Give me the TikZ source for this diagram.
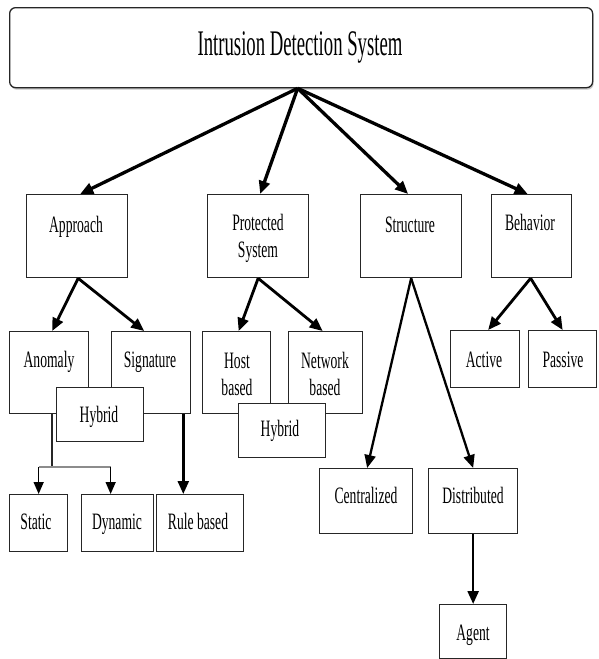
\documentclass[tikz,border=0pt]{standalone}
\usepackage{fontspec}
\setmainfont{Liberation Serif}[FakeStretch=0.58]
\newfontfamily\titlefont{Liberation Serif}[FakeStretch=0.52]
\usetikzlibrary{arrows.meta,calc,shadows}
\begin{document}
\begin{tikzpicture}[x=1pt,y=-1pt,
  box/.style={draw=black!85, line width=1.3pt, fill=white, inner sep=0pt, anchor=north west},
  lbl/.style={anchor=base, inner sep=0pt, font=\fontsize{23.5}{27}\selectfont},
  arr/.style={line width=2.8pt, -{Triangle[length=13pt,width=11pt]}},
  thinarr/.style={line width=1.5pt, -{Triangle[length=12pt,width=10pt]}}]
\useasboundingbox (0,0) rectangle (598,659);
% title box
\node[box, rounded corners=6pt, drop shadow={shadow xshift=1pt, shadow yshift=-2pt, fill=black!45},
      minimum width=583pt, minimum height=80pt] (ids) at (9,7) {};
\node[anchor=base, inner sep=0pt, font=\titlefont\fontsize{36}{40}\selectfont] (idst) at (300,55) {Intrusion Detection System};
% level 2
\node[box, minimum width=101pt, minimum height=83pt] (app) at (26,194) {};
\node[lbl] (appt) at (76,232) {Approach};
\node[box, minimum width=101pt, minimum height=83pt] (pro) at (207,194) {};
\node[lbl] (prot) at (258,230) {\begin{tabular}[t]{@{}c@{}}Protected\\System\end{tabular}};
\node[box, minimum width=101pt, minimum height=83pt] (str) at (360,194) {};
\node[lbl] (strt) at (410,232) {Structure};
\node[box, minimum width=80pt, minimum height=83pt] (beh) at (491,194) {};
\node[lbl] (beht) at (530,230) {Behavior};
% level 3
\node[box, minimum width=79pt, minimum height=82pt] (ano) at (9,331) {};
\node[lbl] (anot) at (49,367) {Anomaly};
\node[box, minimum width=79pt, minimum height=82pt] (sig) at (111,331) {};
\node[lbl] (sigt) at (150,367) {Signature};
\node[box, minimum width=87pt, minimum height=54pt] (hyb1) at (56,387) {};
\node[lbl] (hyb1t) at (99,422) {Hybrid};
\node[box, minimum width=68pt, minimum height=82pt] (host) at (202,331) {};
\node[lbl] (hostt) at (237,368) {\begin{tabular}[t]{@{}c@{}}Host\\based\end{tabular}};
\node[box, minimum width=74pt, minimum height=82pt] (net) at (288,331) {};
\node[lbl] (nett) at (325,368) {\begin{tabular}[t]{@{}c@{}}Network\\based\end{tabular}};
\node[box, minimum width=87pt, minimum height=54pt] (hyb2) at (238,403) {};
\node[lbl] (hyb2t) at (280,436) {Hybrid};
\node[box, minimum width=69pt, minimum height=57pt] (act) at (450,330) {};
\node[lbl] (actt) at (484,367) {Active};
\node[box, minimum width=68pt, minimum height=57pt] (pas) at (528,330) {};
\node[lbl] (past) at (563,367) {Passive};
% level 4
\node[box, minimum width=58pt, minimum height=57pt] (sta) at (9,494) {};
\node[lbl] (stat) at (36,529) {Static};
\node[box, minimum width=72pt, minimum height=57pt] (dyn) at (81,494) {};
\node[lbl] (dynt) at (117,529) {Dynamic};
\node[box, minimum width=87pt, minimum height=57pt] (rul) at (156,494) {};
\node[lbl] (rult) at (198,529) {Rule based};
\node[box, minimum width=93pt, minimum height=65pt] (cen) at (319,468) {};
\node[lbl] (cent) at (366,503) {Centralized};
\node[box, minimum width=89pt, minimum height=65pt] (dis) at (428,468) {};
\node[lbl] (dist) at (473,503) {Distributed};
\node[box, minimum width=67pt, minimum height=54pt] (age) at (439,604) {};
\node[lbl] (aget) at (473,640) {Agent};
% arrows from title
\coordinate (hub) at ($(ids.south)+(-3.5,0)$);
\draw[arr, line width=3.3pt] (hub) -- ($(app.north)+(3,0)$);
\draw[arr, line width=3.3pt] (hub) -- ($(pro.north)+(2,0)$);
\draw[arr, line width=3.3pt] (hub) -- ($(str.north)+(-3,0)$);
\draw[arr, line width=3.3pt] (hub) -- ($(beh.north)+(-4,0)$);
% level 2 -> 3
\draw[arr] ($(app.south)+(1,0)$) -- ($(ano.north)+(3,0)$);
\draw[arr] ($(app.south)+(1,0)$) -- ($(sig.north)+(-7,0)$);
\draw[arr] (pro.south) -- ($(host.north)+(2,0)$);
\draw[arr] (pro.south) -- ($(net.north)+(-3,0)$);
\draw[arr] ($(beh.south)+(-1,0)$) -- ($(act.north)+(3,0)$);
\draw[arr] ($(beh.south)+(-1,0)$) -- (pas.north);
\draw[arr, line width=2.3pt] (str.south) -- ($(cen.north)+(1,0)$);
\draw[arr, line width=2.3pt] (str.south) -- (dis.north);
% level 3 -> 4
\coordinate (sr) at ($(sig.south east)+(-8,0)$);
\draw[arr, line width=2.5pt] (sr) -- (sr |- rul.north);
\draw[arr, line width=2.5pt] (dis.south) -- (age.north);
\coordinate (ab) at ($(ano.south west)+(43,0)$);
\coordinate (aj) at ($(ab)+(0,54)$);
\draw[line width=1.2pt, black!85] (ab) -- (aj);
\coordinate (sj) at ($(sta.north)+(0,-27)$);
\coordinate (dj) at ($(dyn.north)+(-7,-27)$);
\draw[line width=1.4pt, black!45] (sj) -- (dj);
\draw[thinarr] (sj) -- (sj |- sta.north);
\draw[thinarr] (dj) -- (dj |- dyn.north);
\end{tikzpicture}
\end{document}
